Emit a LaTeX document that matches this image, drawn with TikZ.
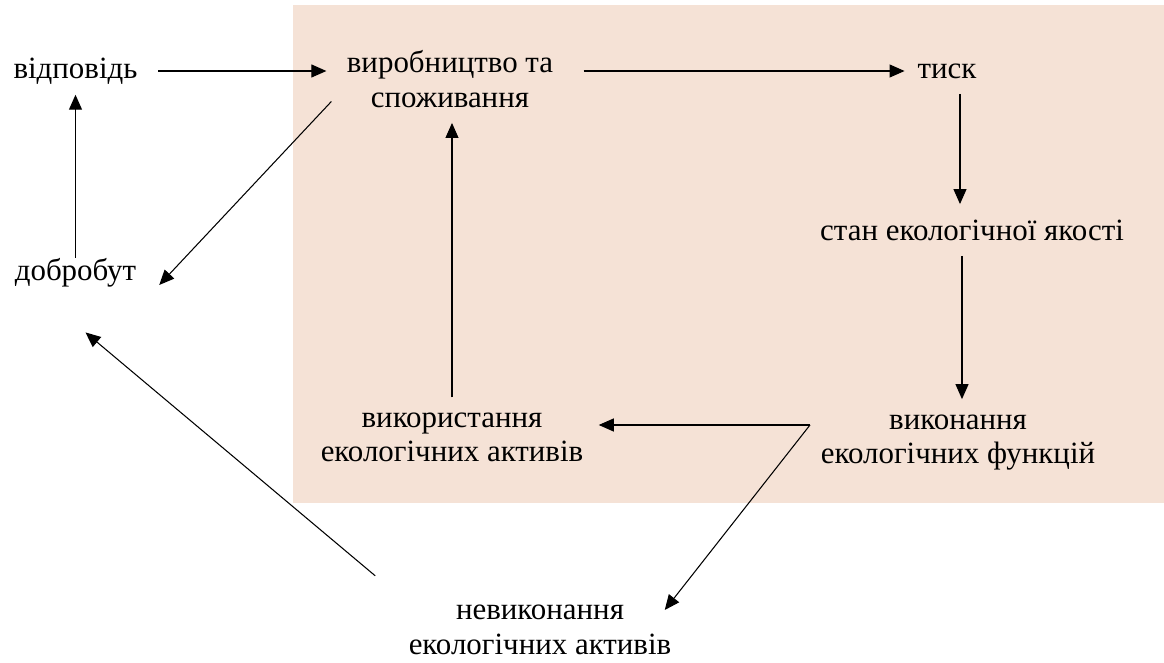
\documentclass[tikz,border=0pt]{standalone}
\usepackage{fontspec}
\setmainfont{Liberation Serif}
\usetikzlibrary{arrows.meta}
\definecolor{panel}{RGB}{245,226,214}

\begin{document}
\begin{tikzpicture}[->,>={Triangle[length=0.3cm,width=0.26cm]},line width=0.6pt,
    every node/.style={font=\fontsize{17.6}{19.6}\selectfont,align=center,inner sep=0.3cm}]
    \useasboundingbox (0,0) rectangle (23.28,-13.26);
    \fill[panel,-] (5.86,-0.1) rectangle (23.28,-10.06);
    \node (resp) at (1.51,-1.42) {відповідь};
    \node (prod) at (9.0,-1.58) {виробництво та\\споживання};
    \node (press) at (18.94,-1.42) {тиск};
    \node (state) at (19.44,-4.6) {стан екологічної якості};
    \node (perf) at (19.16,-8.85) {виконання\\екологічних функцій};
    \node (use) at (9.04,-8.75) {використання\\екологічних активів};
    \node (welfare) at (1.51,-5.45) {добробут};
    \node (nonperf) at (10.8,-12.6) {невиконання\\екологічних активів};
    \coordinate (fork) at (16.2,-8.5);
    \path
    (resp.east) edge [shorten <=0.1cm,shorten >=0.1cm] (resp.east -| prod.west)
    (press.west -| prod.east) edge [shorten <=0.3cm,shorten >=-0.05cm] (press.west)
    ([xshift=0.26cm]press.south) edge ([xshift=0.26cm]press.south |- state.north)
    ([xshift=-0.2cm]state.south) edge ([xshift=-0.2cm]state.south |- perf.north)
    (fork) edge (use.east |- fork)
    (fork) edge ([shift={(-0.44,0.4)}]nonperf.east)
    (use.north) edge (use.north |- prod.south)
    ([yshift=-0.45cm]prod.west) edge ([shift={(0.15,-0.25)}]welfare.east)
    (welfare.north) edge [shorten <=-0.3cm,shorten >=-0.1cm] (welfare.north |- resp.south)
    ([shift={(-0.36,0.28)}]nonperf.north west) edge ([shift={(0.2,-0.6)}]welfare.south)
;
  \end{tikzpicture}
\end{document}
